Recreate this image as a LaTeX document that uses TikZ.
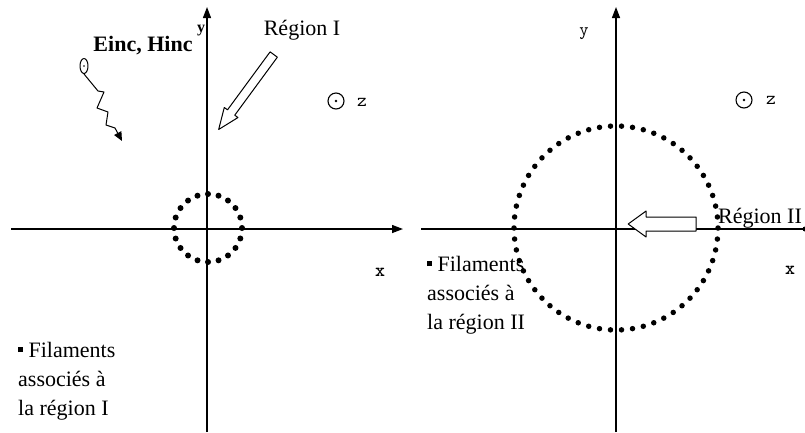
\documentclass[tikz,border=0pt]{standalone}
\usepackage{fontspec}
\setmainfont{Liberation Serif}
\usetikzlibrary{arrows.meta,shapes.arrows,shapes.geometric}
\tikzset{
  every picture/.style={line join=round, >=Triangle},
  axis/.style={line width=1.3pt, -{Triangle[length=11pt,width=8pt]}},
  dotring/.style={line width=5.5pt, line cap=round, dash pattern=on 0pt off #1},
  hollowarrow/.style={single arrow, draw, fill=white, line width=1pt, inner xsep=0pt},
  outdot/.style={circle, draw, line width=1.1pt, minimum size=16pt, inner sep=0pt},
  lbl/.style={font=\fontsize{22}{26}\selectfont, inner sep=0pt, anchor=base},
  axlbl/.style={font=\ttfamily\fontsize{18}{20}\selectfont, inner sep=0pt, anchor=base},
  filtext/.style={font=\fontsize{22}{29}\selectfont, align=left, inner sep=0pt, anchor=base west},
}
\newcommand{\sqbullet}{\rule[0.22em]{0.22em}{0.22em}}

\begin{document}
\begin{tikzpicture}[x=1pt,y=-1pt]
\useasboundingbox (0,0) rectangle (805,432);
% left panel
\coordinate (xl0) at (11,229);
\coordinate (xl1) at (403,229);
\coordinate (yl0) at (207,432);
\coordinate (yl1) at (207,7);
\draw[axis] (xl0) -- (xl1);
\draw[axis] (yl0) -- (yl1);
\draw[dotring=10.68pt, line width=6pt] (208,228) circle[radius=34pt];
\node[axlbl,font=\bfseries\fontsize{16}{18}\selectfont] (ylab1) at (201,32) {y};
\node[axlbl,font=\ttfamily\bfseries\fontsize{19}{20}\selectfont] (xlab1) at (380,276) {x};
\node[lbl,font=\bfseries\fontsize{22}{26}\selectfont] (inc) at (143,51) {Einc, Hinc};
\node[ellipse, draw, line width=1pt, minimum width=8pt, minimum height=15pt, inner sep=0pt] (src) at (84,66) {};
\fill (src.center) circle[radius=0.9pt];
\coordinate (w1) at (98,91);
\coordinate (w2) at (104,92);
\coordinate (w3) at (97,108);
\coordinate (w4) at (108,112);
\coordinate (w5) at (106,125);
\coordinate (w6) at (115,128);
\coordinate (wtip) at (122,141);
\draw[line width=1pt, -{Triangle[length=9pt,width=8pt]}] (src.south) -- (w1) -- (w2) -- (w3) -- (w4) -- (w5) -- (w6) -- (wtip);
\node[lbl] (reg1) at (302,35) {Région I};
\node[hollowarrow, inner ysep=4pt, minimum height=93pt, single arrow head extend=4pt, single arrow tip angle=44, rotate=233.7] (arr1) at (249.5,87.5) {};
\node[outdot] (z1) at (336,101) {};
\fill (z1.center) circle[radius=1.3pt];
\node[axlbl,font=\ttfamily\fontsize{19}{20}\selectfont] (zlab1) at (362,106) {z};
\node[filtext] (fil1) at (18,415) {\sqbullet\ Filaments\\associés à\\la région I};
% right panel
\coordinate (xr0) at (421,229);
\coordinate (xr1) at (805,229);
\coordinate (yr0) at (616,432);
\coordinate (yr1) at (616,7);
\draw[line width=1.3pt] (xr0) -- (xr1);
\fill (xr1) circle[radius=2.5pt];
\draw[axis] (yr0) -- (yr1);
\draw[dotring=11.05pt] (616,228) circle[radius=102pt];
\node[axlbl,font=\ttfamily\fontsize{18}{18}\selectfont] (ylab2) at (584,35) {y};
\node[axlbl,font=\ttfamily\bfseries\fontsize{19}{20}\selectfont] (xlab2) at (790,274) {x};
\node[outdot] (z2) at (744,100) {};
\fill (z2.center) circle[radius=1.3pt];
\node[axlbl,font=\ttfamily\fontsize{19}{20}\selectfont] (zlab2) at (771,104) {z};
\node[hollowarrow, inner ysep=6.5pt, minimum height=68pt, single arrow head extend=6pt, single arrow tip angle=72, rotate=180] (arr2) at (667,224) {};
\node[lbl] (reg2) at (760,223) {Région II};
\node[filtext] (fil2) at (427,329) {\sqbullet\ Filaments\\associés à\\la région II};
\end{tikzpicture}
\end{document}
